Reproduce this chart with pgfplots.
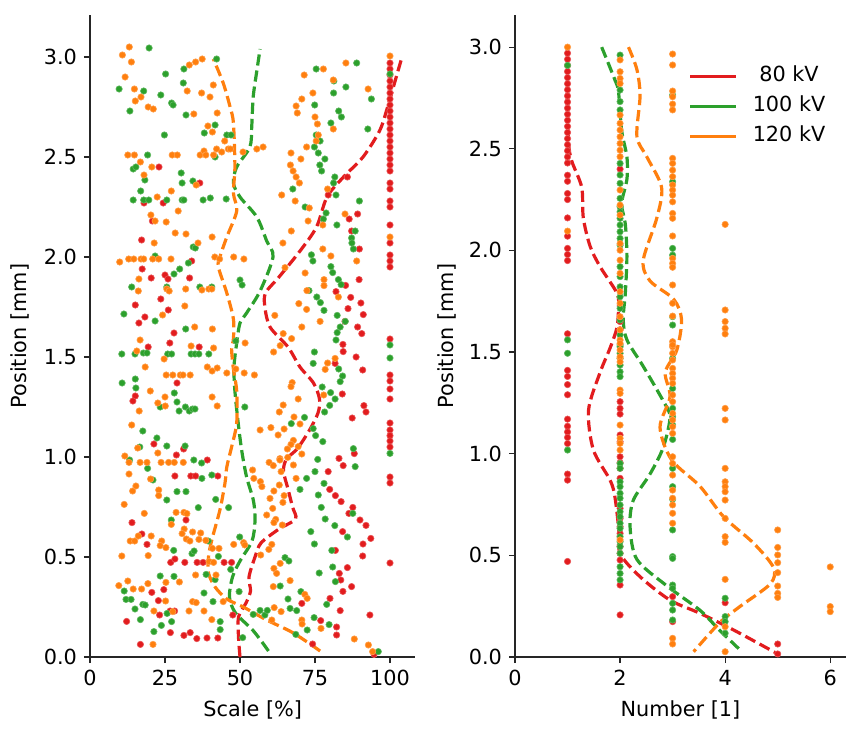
\documentclass[border=0pt]{standalone}
\usepackage{pgfplots}
\pgfplotsset{compat=1.18}
\usepackage{fontspec}
\setmainfont{DejaVu Sans}
\definecolor{cR}{RGB}{226,28,30}
\definecolor{cG}{RGB}{44,160,44}
\definecolor{cO}{RGB}{255,127,14}
\pgfplotsset{
  myax/.style={
    scale only axis, height=321pt, ymin=0,
    axis x line*=bottom, axis y line*=left,
    axis line style={-, line width=0.6pt, black!85},
    tick align=outside, major tick length=3pt,
    tick style={line width=0.6pt, black!85},
    /pgf/number format/assume math mode=true,
    tick label style={font=\fontsize{10.4}{12}\selectfont},
    label style={font=\fontsize{10.4}{12}\selectfont},
    ytick={0,0.5,1,1.5,2,2.5,3},
    yticklabel style={/pgf/number format/fixed,/pgf/number format/fixed zerofill,/pgf/number format/precision=1},
    ylabel={Position [mm]},
    xlabel style={at={(axis description cs:0.5,0)}, anchor=center, yshift=-26.5pt},
  },
  sc/.style={only marks, mark=*, mark size=1.6pt, color=#1, mark options={draw=#1!75!white, fill=#1, line width=0.3pt}, forget plot},
  dl/.style={color=#1, line width=1.6pt, dash pattern=on 5.6pt off 2.5pt, smooth, no marks},
}
\begin{document}
\begin{tikzpicture}
\useasboundingbox (0,0) rectangle (426pt,365pt);
% ================= LEFT =================
\begin{axis}[myax, at={(45pt,36.5pt)}, anchor=south west, width=162.75pt,
  xmin=0, xmax=108.5, ymax=3.21, xtick={0,25,50,75,100}, xlabel={Scale [\%]},
  ylabel style={at={(axis description cs:0,0.5)}, anchor=center, yshift=35pt}]
% red
\addplot[sc=cR] coordinates {
(100,2.43)(100,2.46)(100,2.49)(100,2.52)(100,2.55)(100,2.58)(100,2.61)(100,2.64)(100,2.67)(100,2.70)(100,2.73)(100,2.76)(100,2.79)(100,2.82)(100,2.85)(100,2.88)(100,2.91)(100,2.94)(100,2.97)
(100,2.37)(100,2.34)(100,2.28)(100,2.25)(100,2.16)(100,2.07)(100,2.01)(100,1.98)(100,1.95)
(100,1.59)(100,1.41)(100,1.38)(100,1.34)(100,1.29)(100,1.17)(100,1.135)(100,1.107)(100,1.08)(100,1.05)(100,0.90)(100,0.87)(100,0.47)
(23,2.45)(36.6,2.37)(18,2.27)(24.4,2.27)(20.8,2.18)(17.2,2.085)(85.8,2.40)(79.4,2.31)(89.2,2.215)(86.4,2.19)(87.2,2.13)(89.8,2.04)
(33.9,1.98)(17.4,1.94)(20.4,1.895)(25,1.91)(26,1.89)(33.2,1.895)(23.6,1.79)(15.1,1.76)(26.1,1.735)(18.3,1.70)(16.3,1.67)(28,1.62)(26.6,1.57)(19.4,1.55)(36.4,1.55)(29,1.37)(15.1,1.305)(14.3,1.28)(21.3,1.065)(31.2,1.04)(28.8,1.01)(39.1,0.985)
(89.7,1.887)(85.2,1.858)(82,1.827)(86.9,1.798)(90.3,1.77)(86,1.742)(91.1,1.712)(85,1.678)(89.2,1.65)(90.6,1.617)(84.3,1.563)(84.4,1.527)(88.7,1.50)(81.7,1.468)(90.9,1.435)(84.1,1.315)(91.3,1.257)(92,1.225)(87.4,1.195)(88.1,1.017)(83,0.993)
(28.3,0.905)(33.6,0.905)(35.2,0.905)(42.6,0.905)(14,0.672)(17.3,0.615)(19,0.563)(32,0.685)(26.9,0.473)(28.3,0.49)(31.6,0.473)(35.7,0.473)(37.7,0.473)(44.7,0.473)(47.2,0.473)(24.6,0.337)(20.6,0.323)(22.8,0.282)(26.7,0.23)(28.2,0.23)(23.2,0.21)(12.2,0.178)(26.8,0.122)(31.3,0.108)(33.4,0.122)(35.6,0.092)(39,0.095)(42.6,0.095)(16.8,0.063)(47.6,0.21)
(84.4,0.957)(79.4,0.927)(79.9,0.838)(81.8,0.807)(83.7,0.777)(87.6,0.748)(86.3,0.718)(90,0.685)(92,0.658)(84.2,0.627)(93.6,0.593)(91,0.565)(81.8,0.533)(90.9,0.505)(85.8,0.447)(83.1,0.418)(83.6,0.385)(87.2,0.352)(84.3,0.328)(80,0.293)(70.6,0.268)(83.4,0.232)(93.3,0.21)(76.9,0.182)(82.2,0.15)(82.2,0.11)(74.2,0.065)(94.7,0.013)
};
% green
\addplot[sc=cG] coordinates {
(19.7,3.045)(25.2,2.915)(31.3,2.94)(31.1,2.87)(9.7,2.84)(17.9,2.83)(23.6,2.81)(27.2,2.77)(27.7,2.76)(13.3,2.73)(32,2.71)(24.8,2.61)(38.1,2.62)(41.7,2.66)(45.6,2.61)(47,2.61)(19.2,2.51)(41.7,2.50)(14.4,2.44)(15.3,2.45)(30.4,2.42)(18.3,2.385)(30.7,2.37)(34.3,2.38)(16.9,2.33)(14.4,2.285)(17.9,2.285)(19.6,2.285)(25.6,2.285)(30.7,2.285)(31.3,2.285)(37.7,2.285)(40.1,2.295)(45.4,2.29)(34.4,2.05)(35.1,2.045)(42.2,2.99)
(75.4,2.94)(88.9,2.97)(81.3,2.88)(85.3,2.85)(81.2,2.82)(93.8,2.79)(74.9,2.76)(82.9,2.73)(83.8,2.70)(80.3,2.67)(92.6,2.64)(75.4,2.61)(76.7,2.58)(74.8,2.55)(76.1,2.52)(78.3,2.49)(76.6,2.46)(77.2,2.43)(81.6,2.40)(81.2,2.37)(67.6,2.34)(82,2.31)(89.8,2.28)(71.7,2.25)(78.7,2.22)(77.8,2.19)(82.3,2.16)(88.4,2.13)(87.2,2.095)(87.3,2.07)(87.8,2.04)(100,2.915)
(21.7,2.005)(32.8,1.97)(29.9,1.94)(28,1.915)(13.9,1.85)(25.6,1.85)(36.6,1.85)(40.6,1.85)(50,1.885)(50.7,1.86)(11.3,1.715)(21.7,1.68)(31.9,1.64)(48.6,1.58)(10.6,1.515)(15,1.515)(17.8,1.52)(19,1.52)(25.9,1.515)(27.2,1.515)(33.7,1.515)(35,1.515)(36.3,1.515)(39.6,1.515)(10.7,1.37)(15.1,1.39)(15.3,1.345)(28.1,1.32)(29,1.275)(23.4,1.25)(29.7,1.23)(31.8,1.25)(33.1,1.23)(34.2,1.24)(35,1.24)(51.6,1.25)(17.6,1.13)(22.3,1.095)(16.6,1.05)(25.6,1.055)(31.7,1.055)(13.2,0.985)(34.6,0.985)
(73.8,2.011)(74.3,1.98)(80.3,1.952)(80.9,1.922)(82.8,1.887)(83.7,1.862)(73,1.832)(75.6,1.80)(76.8,1.772)(78,1.733)(82.4,1.708)(85.1,1.678)(83.4,1.65)(82.4,1.622)(82,1.585)(74.8,1.525)(74.4,1.468)(82.9,1.44)(84.2,1.405)(83.4,1.377)(77.4,1.35)(80.2,1.322)(81.7,1.29)(79.9,1.258)(78.2,1.225)(71.5,1.198)(67.1,1.167)(74.4,1.142)(75.2,1.107)(77.6,1.077)(87.8,1.042)(75.9,0.988)(100,1.56)(100,1.495)(100,1.018)
(19.2,0.943)(21,0.885)(37.2,0.97)(37.3,0.893)(40.6,0.91)(29,0.827)(32,0.827)(25.6,0.785)(41.9,0.788)(36.1,0.747)(46.2,0.747)(27.1,0.685)(39.4,0.58)(49.9,0.60)(27.9,0.533)(34,0.517)(34.7,0.53)(42.8,0.503)(46.9,0.438)(23.4,0.405)(28,0.403)(38.7,0.413)(41.7,0.387)(11.4,0.33)(12,0.288)(13.7,0.288)(15,0.24)(17.6,0.263)(18.4,0.26)(38,0.32)(49.7,0.327)(16.8,0.187)(23.8,0.158)(27.2,0.177)(21.3,0.127)(43.4,0.177)(43.4,0.137)(25.7,0.218)(41,0.277)(50.9,0.097)
(75,0.927)(72.2,0.893)(70,0.838)(78,0.868)(76.1,0.81)(77.1,0.748)(78.4,0.69)(81.6,0.657)(85.8,0.6)(73.6,0.627)(74.8,0.565)(80.6,0.533)(65,0.497)(66.3,0.48)(80.9,0.45)(76.4,0.42)(81.8,0.377)(63.4,0.355)(70.3,0.327)(66,0.29)(66.7,0.243)(68.9,0.232)(78.9,0.263)(56.7,0.233)(58.3,0.21)(59.1,0.233)(54.4,0.213)(74.7,0.197)(79.7,0.162)(72.4,0.135)(68.6,0.113)(88.4,0.952)(87.6,0.718)(96.1,0.027)
};
% orange
\addplot[sc=cO] coordinates {
(13.1,3.05)(10.8,3.01)(13.8,2.975)(11.7,2.90)(14.8,2.84)(17,2.80)(15.1,2.78)(19.4,2.75)(21.1,2.74)(32.4,2.83)(37.2,2.82)(40,2.80)(41.1,2.86)(33.1,2.96)(35.2,2.975)(37.4,2.99)(34.6,2.715)(42.4,2.72)(39.3,2.655)(40.8,2.625)(44.9,2.58)(12.6,2.51)(14.8,2.51)(16.8,2.475)(20.6,2.45)(18,2.41)(27.4,2.51)(29.1,2.51)(36.7,2.51)(38,2.53)(38.6,2.51)(41.2,2.51)(42.2,2.54)(43.9,2.525)(46.1,2.54)(46.8,2.54)(51,2.525)(35.4,2.36)(27.1,2.33)(22.4,2.30)(29.4,2.23)(20.3,2.21)(21.7,2.18)(25.4,2.175)(28.4,2.12)(32,2.115)(40.7,2.10)(21.4,2.07)(36,2.07)
(100,3.005)(85.3,2.97)(77.8,2.94)(71.4,2.91)(81.1,2.885)(92.7,2.84)(74.3,2.82)(70.6,2.79)(68.7,2.755)(69.1,2.72)(75,2.70)(75.8,2.665)(81.1,2.64)(76.1,2.61)(75.4,2.58)(55.6,2.54)(57.7,2.55)(72.2,2.55)(67,2.52)(70.3,2.49)(66.8,2.46)(67.7,2.43)(68.7,2.40)(69.8,2.37)(63.9,2.31)(68.4,2.28)(79.2,2.34)(73.1,2.245)(72.7,2.18)(77.6,2.16)(85,2.215)(67.1,2.13)(64.3,2.07)(100,2.10)(77.6,2.04)
(9.9,1.975)(12.9,1.99)(14.6,1.99)(17,1.99)(17.9,1.99)(20.9,1.99)(22.9,1.99)(27,1.99)(41.6,2.00)(43.2,1.99)(47.9,2.00)(51.3,1.99)(16.3,1.89)(16.1,1.83)(25.6,1.84)(26.4,1.83)(31.9,1.84)(37.3,1.835)(39.6,1.84)(40.6,1.84)(31.6,1.755)(24.2,1.71)(34.9,1.65)(40.8,1.64)(16.7,1.585)(15.6,1.53)(33.7,1.555)(41.2,1.545)(51.7,1.57)(24.7,1.49)(18.4,1.45)(39.1,1.45)(40.7,1.43)(42.4,1.445)(25.4,1.41)(27.6,1.41)(30.1,1.41)(31,1.41)(33.4,1.41)(45.6,1.42)(48.6,1.44)(51.4,1.42)(54.8,1.41)(20.1,1.33)(25,1.30)(22.6,1.27)(25.1,1.255)(40.7,1.30)(42.4,1.255)(16.4,1.23)(13.9,1.16)(15.9,1.045)(22.6,1.02)(11.6,1.005)
(80.3,2.005)(88.9,1.98)(65,1.947)(71.7,1.92)(78,1.887)(78,1.857)(72.3,1.832)(82.8,1.80)(69.6,1.767)(72.2,1.738)(61.6,1.708)(76.7,1.678)(70.6,1.65)(64.4,1.617)(67.2,1.592)(63.4,1.557)(61.2,1.525)(81.7,1.493)(79.2,1.47)(78.4,1.438)(67.4,1.372)(67,1.352)(69.4,1.29)(77.9,1.31)(64.4,1.26)(63.1,1.225)(68,1.20)(70,1.165)(56.7,1.135)(60.3,1.147)(64.7,1.14)(62.7,1.11)(67.8,1.083)(67,1.063)(65.8,1.04)(69.4,1.052)(70.6,1.015)(63.3,0.992)(65.9,0.998)
(13,0.973)(16.7,0.973)(19,0.973)(23.7,0.973)(26.2,0.973)(28.1,0.973)(31.1,0.973)(13,0.915)(20.2,0.89)(15.3,0.855)(14.2,0.83)(22.9,0.835)(22.9,0.807)(11.4,0.763)(18.1,0.718)(28.7,0.723)(31.3,0.723)(32.3,0.717)(27.1,0.663)(31.4,0.64)(30.7,0.617)(34.2,0.625)(36.9,0.62)(32.1,0.59)(33.3,0.58)(36.3,0.588)(38.6,0.583)(13.4,0.58)(14.9,0.58)(16.1,0.605)(20.4,0.605)(23.9,0.58)(23.4,0.557)(25.3,0.547)(10.6,0.505)(19.4,0.507)(40.8,0.543)(43,0.543)(39.7,0.477)(41.2,0.473)(47.9,0.563)(51.2,0.572)(51.6,0.56)(35.2,0.41)(42,0.41)(9.6,0.357)(12.6,0.38)(14.4,0.34)(17.2,0.34)(19.3,0.367)(25.3,0.373)(29.8,0.375)(25.2,0.28)(21.3,0.23)(27.6,0.227)(33,0.23)(34.2,0.277)(35.4,0.272)(38,0.23)(40.6,0.187)(21,0.063)(44.4,0.277)
(59.7,0.973)(61.1,0.957)(63.3,0.985)(54.2,0.935)(54.6,0.893)(56.8,0.877)(57.3,0.852)(63.7,0.927)(67.8,0.96)(68.7,0.893)(63.1,0.86)(61.3,0.83)(64.7,0.807)(60,0.793)(64.3,0.773)(60.9,0.743)(58.9,0.71)(61.9,0.688)(61.3,0.672)(64.1,0.66)(60.6,0.563)(59.6,0.538)(56.9,0.51)(63.4,0.468)(61.3,0.443)(62.2,0.418)(66.7,0.382)(61.1,0.352)(71.6,0.313)(72.4,0.293)(61.4,0.247)(63.7,0.227)(60.6,0.185)(70.6,0.185)(70.7,0.165)(77,0.143)(88.1,0.09)(92.8,0.06)(94.2,0.027)
};
\addplot[dl=cR] coordinates {(50,0.0)(49.5,0.1)(49.5,0.2)(52,0.27)(53.5,0.33)(53,0.40)(55,0.5)(57,0.57)(63,0.64)(68.5,0.69)(67.5,0.75)(66,0.84)(64.5,0.93)(65.5,0.99)(69,1.04)(73,1.13)(76,1.22)(76.5,1.29)(74.5,1.37)(70,1.45)(66,1.55)(60,1.65)(58.3,1.75)(58.5,1.82)(63,1.90)(70,2.03)(75.5,2.15)(79,2.30)(84.5,2.40)(91,2.50)(96.5,2.63)(99,2.74)(101.7,2.88)(104,3.0)};
\addplot[dl=cG] coordinates {(59.5,0.03)(54.5,0.13)(48.5,0.22)(46.5,0.3)(47.5,0.4)(50,0.48)(54,0.58)(55,0.68)(54.5,0.78)(52.2,0.90)(50.6,1.03)(49.4,1.17)(48.3,1.33)(48,1.45)(48.9,1.57)(50,1.67)(52.2,1.72)(56.7,1.83)(61,2.0)(58.9,2.08)(55.6,2.2)(50,2.3)(47.8,2.37)(48.9,2.45)(53.3,2.55)(53.9,2.65)(54.4,2.8)(55.6,2.93)(56.7,3.04)};
\addplot[dl=cO] coordinates {(76.7,0.03)(67.8,0.12)(58.9,0.185)(51.1,0.25)(45.6,0.29)(41.7,0.35)(39.5,0.42)(39.5,0.5)(40.6,0.585)(43.3,0.735)(45,0.87)(45.6,0.95)(47.2,1.05)(48.9,1.17)(48.9,1.33)(47.8,1.44)(47.2,1.54)(47.8,1.59)(47.8,1.69)(45.6,1.82)(42.8,1.95)(43.3,2.0)(45.6,2.1)(48.9,2.23)(47.8,2.32)(48.3,2.45)(47.8,2.67)(46.7,2.75)(44.4,2.87)(41.1,2.99)};
\end{axis}
% ================= RIGHT =================
\begin{axis}[myax, at={(257.5pt,36.5pt)}, anchor=south west, width=165.5pt,
  xmin=0, xmax=6.3, ymax=3.158, xtick={0,2,4,6}, xlabel={Number [1]},
  ylabel style={at={(axis description cs:0,0.5)}, anchor=center, yshift=34pt},
  legend cell align=left,
  legend image code/.code={\draw[solid,line width=1.6pt] (0pt,0pt) -- (23pt,0pt);},
  legend style={at={(axis description cs:0.505,0.928)}, anchor=north west, draw=none, fill=none,
    font=\fontsize{10.4}{12}\selectfont, row sep=4pt,
    nodes={inner sep=0.5pt, text height=0.75em, text depth=0.25em},
    /tikz/every odd column/.append style={column sep=7pt}}]
\addplot[sc=cR] coordinates {
(1,2.43)(1,2.46)(1,2.49)(1,2.52)(1,2.55)(1,2.58)(1,2.61)(1,2.64)(1,2.67)(1,2.70)(1,2.73)(1,2.76)(1,2.79)(1,2.82)(1,2.85)(1,2.88)(1,2.91)(1,2.94)(1,2.97)
(1,2.37)(1,2.34)(1,2.28)(1,2.25)(1,2.16)(1,2.07)(1,2.01)(1,1.98)(1,1.95)(1,1.59)(1,1.41)(1,1.38)(1,1.34)(1,1.29)(1,1.17)(1,1.135)(1,1.107)(1,1.08)(1,1.05)(1,0.90)(1,0.87)(1,0.47)
(2,2.40)(2,1.65)(2,1.61)(2,1.256)(2,1.223)(2,1.195)(2,1.092)(2,1.059)(2,0.985)(2,0.956)(2,0.928)(2,0.879)(2,0.731)(2,0.682)(2,0.641)(2,0.608)(2,0.543)(2,0.510)(2,0.477)(2,0.354)(2,0.207)
(3,0.297)(3,0.174)(4,0.267)(5,0.064)(5,0.015)
};
\addplot[sc=cG] coordinates {
(1,2.91)(1,1.56)(1,1.494)(1,1.018)
(2,2.961)(2,2.789)(2,2.732)(2,2.691)(2,2.428)(2,2.371)(2,2.330)(2,2.256)(2,2.215)(2,2.190)(2,2.158)(2,2.125)(2,2.092)(2,2.059)(2,2.026)(2,1.920)(2,1.871)(2,1.821)(2,1.772)(2,1.715)(2,1.658)(2,1.584)(2,1.535)
(2,1.526)(2,1.494)(2,1.469)(2,1.436)(2,1.403)(2,1.379)(2,0.952)(2,0.928)(2,0.862)(2,0.838)(2,0.805)(2,0.781)(2,0.748)(2,0.715)(2,0.690)(2,0.658)(2,0.633)(2,0.592)(2,0.567)(2,0.543)(2,0.510)(2,0.444)(2,0.411)(2,0.379)
(3,2.764)(3,2.338)(3,2.010)(3,1.977)(3,1.674)(3,1.633)(3,1.469)(3,1.321)(3,1.223)(3,1.182)(3,1.141)(3,1.070)(3,0.928)(3,0.838)(3,0.776)(3,0.625)(3,0.494)(3,0.485)(3,0.354)(3,0.338)(3,0.264)(3,0.231)(3,0.182)
(4,0.289)(4,0.199)(4,0.174)(4,0.117)
};
\addplot[sc=cO] coordinates {
(1,3.0)(1,2.095)
(2,2.937)(2,2.879)(2,2.846)(2,2.821)(2,2.666)(2,2.625)(2,2.592)(2,2.559)(2,2.526)(2,2.493)(2,2.461)(2,2.297)(2,2.223)(2,2.174)(2,2.034)(2,2.001)(2,1.952)(2,1.887)(2,1.797)(2,1.740)(2,1.674)(2,1.609)(2,1.559)(2,1.510)(2,1.469)(2,1.543)(2,1.477)(2,1.452)(2,1.313)(2,1.297)(2,1.141)(2,1.076)(2,1.051)(2,1.018)(2,0.576)
(3,2.966)(3,2.912)(3,2.784)(3,2.756)(3,2.720)(3,2.691)(3,2.453)(3,2.428)(3,2.395)(3,2.363)(3,2.322)(3,2.297)(3,2.272)(3,2.239)(3,2.182)(3,2.158)(3,2.071)(3,1.961)(3,1.936)(3,1.917)(3,1.830)(3,1.740)(3,1.677)(3,1.551)(3,1.526)(3,1.535)(3,1.494)(3,1.461)(3,1.420)(3,1.395)(3,1.371)(3,1.346)(3,1.289)(3,1.256)(3,1.198)(3,1.166)(3,1.133)(3,1.100)(3,0.985)(3,0.952)(3,0.895)(3,0.821)(3,0.781)(3,0.748)(3,0.707)(3,0.658)(3,0.092)(3,0.064)
(4,2.128)(4,1.707)(4,1.650)(4,1.617)(4,1.589)(4,1.223)(4,1.166)(4,0.928)(4,0.862)(4,0.838)(4,0.813)(4,0.772)(4,0.682)(4,0.592)(4,0.564)(4,0.382)(4,0.149)(4,0.026)
(5,0.625)(5,0.539)(5,0.502)(5,0.464)(5,0.415)(5,0.349)(5,0.313)(5,0.293)
(6,0.443)(6,0.248)(6,0.223)
};
\addplot[dl=cR] coordinates {(1.0,3.0)(1.0,2.75)(1.02,2.53)(1.08,2.44)(1.27,2.31)(1.30,2.16)(1.43,2.02)(1.62,1.92)(1.94,1.79)(1.97,1.72)(1.94,1.62)(1.81,1.52)(1.62,1.40)(1.40,1.215)(1.49,1.02)(1.81,0.87)(1.90,0.79)(1.97,0.64)(2.0,0.51)(2.38,0.395)(2.95,0.28)(3.52,0.215)(4.16,0.133)(4.98,0.018)};
\addlegendentry{\hspace*{0.318em}80 kV}
\addplot[dl=cG] coordinates {(1.65,3.0)(1.90,2.84)(1.97,2.78)(2.03,2.59)(2.13,2.46)(2.13,2.35)(2.03,2.23)(2.10,2.13)(2.13,1.97)(2.10,1.79)(2.06,1.66)(2.13,1.56)(2.44,1.43)(2.82,1.26)(2.95,1.18)(2.82,1.03)(2.57,0.90)(2.25,0.77)(2.19,0.64)(2.32,0.48)(2.89,0.35)(3.52,0.23)(3.90,0.13)(4.32,0.026)};
\addlegendentry{100 kV}
\addplot[dl=cO] coordinates {(2.16,3.0)(2.32,2.89)(2.38,2.76)(2.32,2.56)(2.51,2.46)(2.79,2.31)(2.70,2.16)(2.44,1.95)(2.57,1.85)(3.02,1.76)(3.17,1.66)(3.08,1.51)(2.86,1.40)(2.95,1.28)(2.76,1.13)(2.98,0.97)(3.52,0.84)(3.97,0.69)(4.54,0.56)(4.92,0.44)(4.86,0.36)(4.29,0.25)(3.90,0.17)(3.40,0.026)};
\addlegendentry{120 kV}
\end{axis}
\end{tikzpicture}
\end{document}
